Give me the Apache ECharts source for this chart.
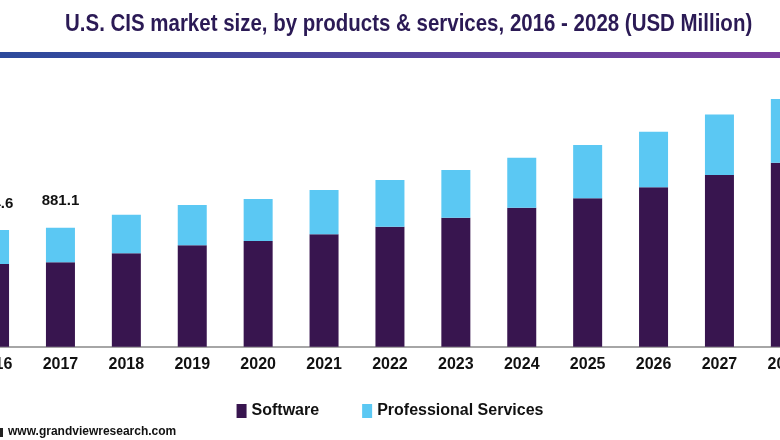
<!DOCTYPE html>
<html>
<head>
<meta charset="utf-8">
<script src="https://cdn.jsdelivr.net/npm/echarts@6/dist/echarts.min.js"></script>
<style>
  html, body { margin: 0; padding: 0; background: #fff; }
  #chart { width: 780px; height: 440px; }
</style>
</head>
<body>
<div id="chart"></div>
<script>
// years on the x axis
var years = ['2016', '2017', '2018', '2019', '2020', '2021', '2022',
             '2023', '2024', '2025', '2026', '2027', '2028'];
// USD Million
var software = [612, 625, 692, 751, 783, 832, 888, 955, 1029, 1099, 1180, 1271, 1362];
var professional = [252.6, 256.1, 285, 298, 311, 328, 346, 353, 370, 394, 412, 447, 472];
// only these years carry a total label
var labelledYears = ['2016', '2017'];

function totalOf(i) {
    return (software[i] + professional[i]).toFixed(1);
}

var proData = professional.map(function (v, i) {
    var item = { value: v };
    if (labelledYears.indexOf(years[i]) >= 0) {
        item.label = {
            show: true,
            position: 'top',
            distance: 19,
            formatter: function (p) { return totalOf(p.dataIndex); },
            color: '#111',
            fontSize: 15,
            fontWeight: 'bold',
            fontFamily: 'Liberation Sans'
        };
    }
    return item;
});

var chart = echarts.init(document.getElementById('chart'));
chart.setOption({
    animation: false,
    legend: {
        top: 398,
        left: 'center',
        itemWidth: 10,
        itemHeight: 14,
        itemGap: 43,
        icon: 'rect',
        textStyle: {
            color: '#111',
            fontSize: 16,
            fontWeight: 'bold',
            fontFamily: 'Liberation Sans'
        },
        data: ['Software', 'Professional Services']
    },
    graphic: [
        {
            // title, squeezed to look like the condensed face of the original
            type: 'text',
            x: 65,
            y: 12,
            scaleX: 0.853,
            style: {
                text: 'U.S. CIS market size, by products & services, 2016 - 2028 (USD Million)',
                fill: '#2b1a55',
                fontSize: 24,
                fontWeight: 'bold',
                fontFamily: 'Liberation Sans'
            }
        },
        {
            type: 'rect',
            shape: { x: 0, y: 52, width: 780, height: 6 },
            style: {
                fill: new echarts.graphic.LinearGradient(0, 0, 1, 0, [
                    { offset: 0, color: '#2c4a9c' },
                    { offset: 1, color: '#7b3f9f' }
                ])
            }
        },
        {
            type: 'rect',
            shape: { x: 0, y: 428, width: 3, height: 9 },
            style: { fill: '#222' }
        },
        {
            type: 'text',
            x: 8,
            y: 426,
            style: {
                text: 'www.grandviewresearch.com',
                fill: '#111',
                fontSize: 12,
                fontWeight: 'bold',
                fontFamily: 'Liberation Sans'
            }
        }
    ],
    grid: {
        left: -38.4,
        width: 856.7,
        top: 63,
        height: 283.7,
        containLabel: false,
        outerBoundsMode: 'none'
    },
    xAxis: {
        type: 'category',
        data: years,
        axisLine: { lineStyle: { color: '#a6a6a6', width: 2 } },
        axisTick: { show: false },
        axisLabel: {
            color: '#111',
            fontSize: 16,
            fontWeight: 'bold',
            fontFamily: 'Liberation Sans',
            margin: 10
        }
    },
    yAxis: {
        type: 'value',
        min: 0,
        max: 2100,
        show: false,
        splitLine: { show: false }
    },
    series: [
        {
            name: 'Software',
            type: 'bar',
            stack: 'total',
            barWidth: 29,
            data: software,
            itemStyle: { color: '#38154f' }
        },
        {
            name: 'Professional Services',
            type: 'bar',
            stack: 'total',
            barWidth: 29,
            data: proData,
            itemStyle: { color: '#5bc8f3' }
        }
    ]
});
</script>
</body>
</html>
